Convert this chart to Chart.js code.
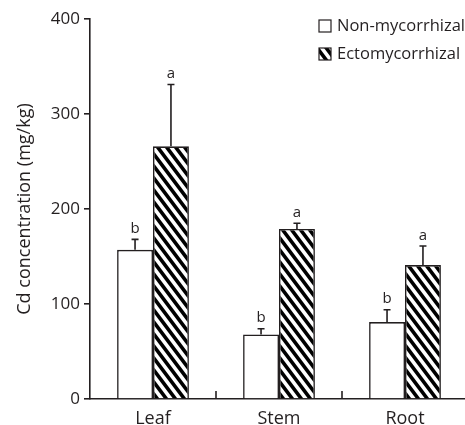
<!DOCTYPE html>
<html>
<head>
<meta charset="utf-8">
<script src="https://cdn.jsdelivr.net/npm/chart.js@4/dist/chart.umd.min.js"></script>
<style>
  html, body { margin: 0; padding: 0; background: #fff; overflow: hidden; }
  canvas { display: block; }
</style>
</head>
<body>
<canvas id="myChart" width="468" height="425" style="width:468px;height:425px"></canvas>
<script>
const categories = ["Leaf", "Stem", "Root"];
const nonMyco = [157, 68, 81];
const nonMycoErr = [11, 6, 13];
const nonMycoLetters = ["b", "b", "b"];
const ecto = [266, 179, 141];
const ectoErr = [65, 6, 20];
const ectoLetters = ["a", "a", "a"];
const yTicks = [0, 100, 200, 300, 400];

const ink = "#231f20";
const fontFamily = "'Open Sans', sans-serif";

// diagonal "\" hatching
function makeHatch() {
  const w = 9, h = 12;
  const c = document.createElement("canvas");
  c.width = w;
  c.height = h;
  const g = c.getContext("2d");
  g.fillStyle = "#fff";
  g.fillRect(0, 0, w, h);
  g.fillStyle = "#000";
  for (let i = -1; i <= 1; i++) {
    g.beginPath();
    g.moveTo(i * w, 0);
    g.lineTo(i * w + w / 2, 0);
    g.lineTo(i * w + w / 2 + w, h);
    g.lineTo(i * w + w, h);
    g.closePath();
    g.fill();
  }
  return g.createPattern(c, "repeat");
}

const ctx = document.getElementById("myChart");
const hatch = makeHatch();

const errors = [nonMycoErr, ectoErr];
const letters = [nonMycoLetters, ectoLetters];

const extras = {
  id: "extras",
  afterDatasetsDraw(chart) {
    const c = chart.ctx;
    const ys = chart.scales.y;
    const xs = chart.scales.x;
    const area = chart.chartArea;
    c.save();
    c.strokeStyle = ink;
    c.fillStyle = ink;
    c.lineWidth = 1.6;
    // error bars + letters
    chart.data.datasets.forEach((ds, di) => {
      const meta = chart.getDatasetMeta(di);
      meta.data.forEach((bar, i) => {
        const top = ys.getPixelForValue(ds.data[i] + errors[di][i]);
        c.beginPath();
        c.moveTo(bar.x, bar.y);
        c.lineTo(bar.x, top);
        c.moveTo(bar.x - 3.5, top);
        c.lineTo(bar.x + 3.5, top);
        c.stroke();
        c.font = "15px " + fontFamily;
        c.textAlign = "center";
        c.textBaseline = "bottom";
        c.fillText(letters[di][i], bar.x, top - 3);
      });
    });
    // category separator ticks pointing up
    for (let i = 1; i < categories.length; i++) {
      const x = (xs.getPixelForValue(i - 1) + xs.getPixelForValue(i)) / 2;
      c.beginPath();
      c.moveTo(x, area.bottom);
      c.lineTo(x, area.bottom - 8);
      c.stroke();
    }
    c.restore();
  },
  afterDraw(chart) {
    const c = chart.ctx;
    c.save();
    c.font = "16.5px " + fontFamily;
    c.textBaseline = "middle";
    c.textAlign = "left";
    chart.data.datasets.forEach((ds, di) => {
      const y = 26 + di * 28;
      c.fillStyle = ds.backgroundColor;
      c.fillRect(319, y - 6, 12, 12);
      c.strokeStyle = ink;
      c.lineWidth = 1.2;
      c.strokeRect(319, y - 6, 12, 12);
      c.fillStyle = ink;
      c.fillText(ds.label, 337, y);
    });
    c.restore();
  }
};

new Chart(ctx, {
  type: "bar",
  data: {
    labels: categories,
    datasets: [
      {
        label: "Non-mycorrhizal",
        data: nonMyco,
        backgroundColor: "#fff",
        borderColor: ink,
        borderWidth: 1.6,
        borderSkipped: "bottom",
        categoryPercentage: 0.57,
        barPercentage: 1.0,
      },
      {
        label: "Ectomycorrhizal",
        data: ecto,
        backgroundColor: hatch,
        borderColor: ink,
        borderWidth: 1.6,
        borderSkipped: "bottom",
        categoryPercentage: 0.57,
        barPercentage: 1.0,
      },
    ],
  },
  options: {
    responsive: false,
    animation: false,
    layout: { padding: { top: 19, left: 0, right: 0, bottom: 0 } },
    plugins: {
      legend: { display: false },
      tooltip: { enabled: false },
    },
    scales: {
      x: {
        grid: { display: false },
        border: { display: true, color: ink, width: 1.6 },
        ticks: {
          color: ink,
          font: { family: fontFamily, size: 18 },
          padding: 1,
        },
        afterFit(scale) {
          scale.height = 26;
        },
      },
      y: {
        min: 0,
        max: 400,
        afterBuildTicks(scale) {
          scale.ticks = yTicks.map((v) => ({ value: v }));
        },
        grid: {
          drawOnChartArea: false,
          drawTicks: true,
          tickLength: 6,
          color: ink,
          lineWidth: 1.6,
        },
        border: { display: true, color: ink, width: 1.6 },
        ticks: {
          color: ink,
          font: { family: fontFamily, size: 17 },
          padding: 4,
        },
        title: {
          display: true,
          text: "Cd concentration (mg/kg)",
          color: ink,
          font: { family: fontFamily, size: 18 },
          padding: { top: 14, bottom: 0 },
        },
        afterFit(scale) {
          scale.width = 90;
        },
      },
    },
  },
  plugins: [extras],
});
</script>
</body>
</html>
